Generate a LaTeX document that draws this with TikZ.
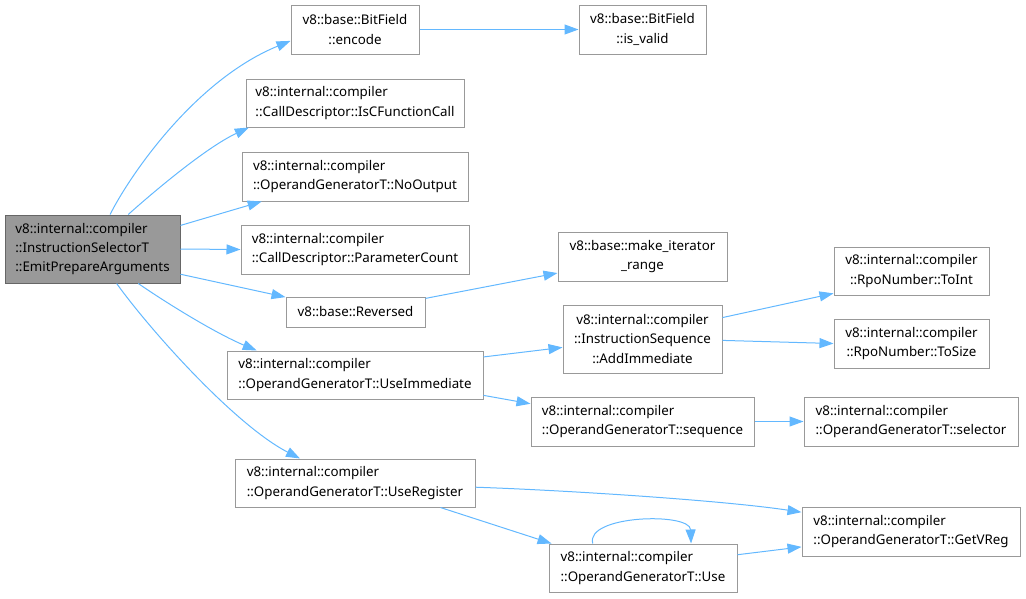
\documentclass[tikz,border=0pt]{standalone}
\usepackage{fontspec}
\setmainfont{Noto Sans}
\usetikzlibrary{arrows.meta}
\definecolor{edgeblue}{HTML}{63B8FF}
\definecolor{boxline}{HTML}{999999}
\definecolor{rootfill}{HTML}{999999}
\definecolor{rootline}{HTML}{666666}
\begin{document}
\begin{tikzpicture}[x=1pt,y=-1pt,
  fn/.style={draw=boxline, line width=1pt, fill=white, inner sep=0pt,
    font=\fontsize{13.33}{19.2}\selectfont, align=left},
  fnc/.style={fn, align=center},
  rootfn/.style={fn, fill=rootfill, draw=rootline},
  call/.style={draw=edgeblue, line width=1pt,
    -{Triangle[length=14pt,width=10pt]}},
]
\useasboundingbox (0,0) rectangle (1026,598);

% caller
\node[rootfn, minimum width=175pt, minimum height=68pt] (root) at (92.5,249)
  {v8::internal::compiler\\::InstructionSelectorT\\::EmitPrepareArguments};

% first column of callees
\node[fnc, minimum width=128pt, minimum height=49pt] (encode) at (355,29.5)
  {v8::base::BitField\\::encode};
\node[fn, minimum width=218pt, minimum height=48pt] (iscf) at (355,103)
  {v8::internal::compiler\\::CallDescriptor::IsCFunctionCall};
\node[fn, minimum width=226pt, minimum height=49pt] (noout) at (355,176.5)
  {v8::internal::compiler\\::OperandGeneratorT::NoOutput};
\node[fn, minimum width=228pt, minimum height=49pt] (pcount) at (355,249.5)
  {v8::internal::compiler\\::CallDescriptor::ParameterCount};
\node[fn, minimum width=139pt, minimum height=30pt] (rev) at (355.5,312)
  {v8::base::Reversed};
\node[fn, minimum width=256pt, minimum height=48pt] (useimm) at (355,375)
  {v8::internal::compiler\\::OperandGeneratorT::UseImmediate};
\node[fn, minimum width=240pt, minimum height=48pt] (usereg) at (355,483)
  {v8::internal::compiler\\::OperandGeneratorT::UseRegister};

% second column
\node[fnc, minimum width=127pt, minimum height=49pt] (isvalid) at (642.5,29.5)
  {v8::base::BitField\\::is\_valid};
\node[fnc, minimum width=169pt, minimum height=49pt] (mkrange) at (642.5,256.5)
  {v8::base::make\_iterator\\\_range};
\node[fnc, minimum width=159pt, minimum height=68pt] (addimm) at (642.5,339)
  {v8::internal::compiler\\::InstructionSequence\\::AddImmediate};
\node[fn, minimum width=223pt, minimum height=49pt] (seq) at (642.5,421.5)
  {v8::internal::compiler\\::OperandGeneratorT::sequence};
\node[fn, minimum width=188pt, minimum height=48pt] (use) at (643,568)
  {v8::internal::compiler\\::OperandGeneratorT::Use};

% third column
\node[fnc, minimum width=155pt, minimum height=48pt] (toint) at (911.5,271)
  {v8::internal::compiler\\::RpoNumber::ToInt};
\node[fnc, minimum width=155pt, minimum height=49pt] (tosize) at (911.5,343.5)
  {v8::internal::compiler\\::RpoNumber::ToSize};
\node[fn, minimum width=214pt, minimum height=49pt] (sel) at (911,421.5)
  {v8::internal::compiler\\::OperandGeneratorT::selector};
\node[fn, minimum width=218pt, minimum height=49pt] (vreg) at (911,531.5)
  {v8::internal::compiler\\::OperandGeneratorT::GetVReg};

% calls from the caller
\draw[call] (root.63) .. controls (130,175) and (195,80) .. (encode.190);
\draw[call] (root.44) .. controls (150,195) and (205,148) .. (iscf.193);
\draw[call] (root.15) -- (noout.195);
\draw[call] (root.east) -- (pcount.west);
\draw[call] (root.-16) -- (rev.168);
\draw[call] (root.-37) .. controls (165,302) and (215,333) .. (useimm.166);
\draw[call] (root.-55) .. controls (150,330) and (235,425) .. (usereg.156);

% further calls
\draw[call] (encode.east) -- (isvalid.west);
\draw[call] (rev.11) -- (mkrange.191);
\draw[call] (useimm.8) -- (addimm.186);
\draw[call] (useimm.-9) -- (seq.171);
\draw[call] (addimm.15) -- (toint.196);
\draw[call] (addimm.-1) -- (tosize.west);
\draw[call] (seq.east) -- (sel.west);
\draw[call] (usereg.-2) .. controls (560,490) and (720,500) .. (vreg.170);
\draw[call] (usereg.-16) -- (use.165);
\draw[call] (use.8) -- (vreg.188);
\draw[call] (use.154) .. controls (585,515) and (690,512) .. (use.27);
\end{tikzpicture}
\end{document}
